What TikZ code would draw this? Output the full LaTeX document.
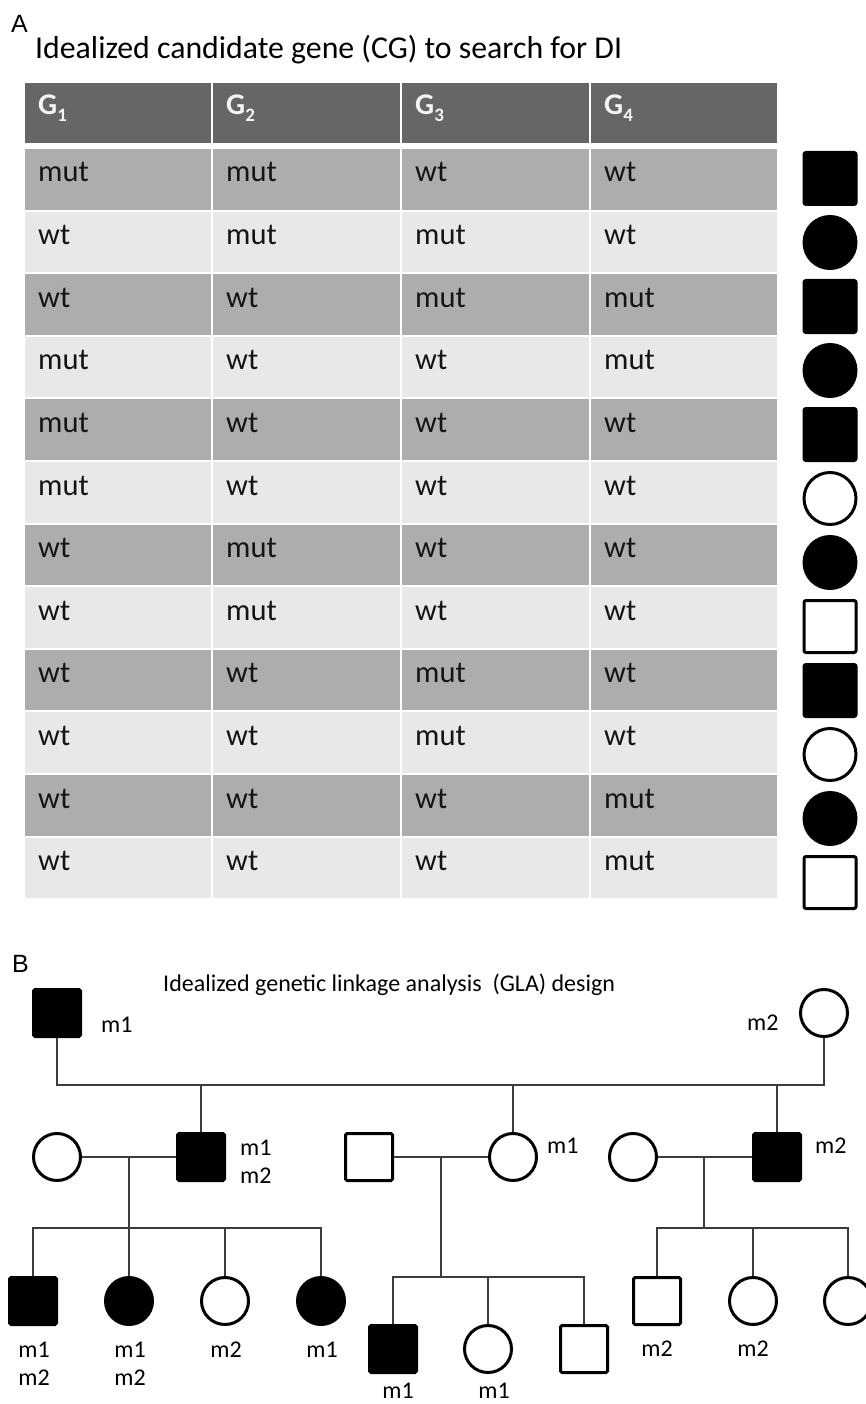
\documentclass[tikz,border=0pt]{standalone}
\usepackage{fontspec}
\setmainfont{Carlito}
\newfontfamily\panelfont{Liberation Sans}
\definecolor{headgray}{HTML}{666666}
\definecolor{darkrow}{HTML}{ADADAD}
\definecolor{lightrow}{HTML}{E8E8E8}
\definecolor{headtxt}{HTML}{F4F4F4}
\definecolor{linkgray}{HTML}{3C3C3C}
\newcommand{\gsub}[1]{\raisebox{-7pt}{\fontsize{19}{19}\selectfont #1}}
\begin{document}
\begin{tikzpicture}[x=1pt,y=-1pt,
  panel/.style={font=\panelfont\fontsize{25}{28}\selectfont, inner sep=0pt, anchor=base west},
  titletxt/.style={inner sep=0pt, anchor=base west},
  headtext/.style={font=\bfseries\fontsize{30}{34}\selectfont, text=headtxt, inner sep=0pt, anchor=base west},
  celltext/.style={font=\fontsize{30.5}{34}\selectfont, text=black!92, inner sep=0pt, anchor=base west},
  % table-side symbols
  tsym/.style={draw=black, line width=3pt, inner sep=0pt, minimum size=52pt},
  fsq/.style={tsym, rectangle, rounded corners=2pt, fill=black},
  osq/.style={tsym, rectangle, rounded corners=2pt, fill=white},
  fci/.style={tsym, circle, fill=black},
  oci/.style={tsym, circle, fill=white},
  % pedigree symbols
  psym/.style={draw=black, line width=3pt, inner sep=0pt, minimum size=47pt},
  male/.style={psym, rectangle, rounded corners=1.5pt, fill=white},
  female/.style={psym, circle, fill=white},
  aff/.style={fill=black},
  link/.style={draw=linkgray, line width=1.4pt},
  tagl/.style={font=\fontsize{24}{28}\selectfont, inner sep=0pt, anchor=base west},
  tagc/.style={font=\fontsize{24}{28}\selectfont, inner sep=0pt, anchor=base},
]
\useasboundingbox (0,0) rectangle (865,1404);

% ---------------- panel A ----------------
\node[panel] (lblA) at (11,33) {A};
\node[titletxt, font=\fontsize{31.8}{34}\selectfont] (titleA) at (35,59) {Idealized candidate gene (CG) to search for DI};

% header row
\foreach \xl/\xr in {24/212,212/401,401/590,590/778}
  \fill[headgray] (\xl+1,83) rectangle (\xr-1,143);
\node[headtext] (h1) at (38,115) {G\gsub{1}};
\node[headtext] (h2) at (226,115) {G\gsub{2}};
\node[headtext] (h3) at (415,115) {G\gsub{3}};
\node[headtext] (h4) at (604,115) {G\gsub{4}};

% genotype rows with the matching pedigree symbol at the right
\foreach \r/\rc/\ga/\gb/\gc/\gd/\sym in {
  1/darkrow/mut/mut/wt/wt/fsq,
  2/lightrow/wt/mut/mut/wt/fci,
  3/darkrow/wt/wt/mut/mut/fsq,
  4/lightrow/mut/wt/wt/mut/fci,
  5/darkrow/mut/wt/wt/wt/fsq,
  6/lightrow/mut/wt/wt/wt/oci,
  7/darkrow/wt/mut/wt/wt/fci,
  8/lightrow/wt/mut/wt/wt/osq,
  9/darkrow/wt/wt/mut/wt/fsq,
  10/lightrow/wt/wt/mut/wt/oci,
  11/darkrow/wt/wt/wt/mut/fci,
  12/lightrow/wt/wt/wt/mut/osq} {
  \pgfmathsetmacro{\top}{148+62.6*(\r-1)}
  \pgfmathsetmacro{\bot}{\top+62.6}
  \pgfmathsetmacro{\base}{\top+34}
  \pgfmathsetmacro{\sy}{178.5+64*(\r-1)}
  \foreach \xl/\xr in {24/212,212/401,401/590,590/778}
    \fill[\rc] (\xl+1,\top+1) rectangle (\xr-1,\bot-1);
  \node[celltext] (c\r-1) at (38,\base) {\ga};
  \node[celltext] (c\r-2) at (226,\base) {\gb};
  \node[celltext] (c\r-3) at (415,\base) {\gc};
  \node[celltext] (c\r-4) at (604,\base) {\gd};
  \node[\sym] (s\r) at (830,\sy) {};
}

% ---------------- panel B ----------------
\node[panel] (lblB) at (12,972) {B};
\node[titletxt, font=\fontsize{24}{28}\selectfont] (titleB) at (163,991) {Idealized genetic linkage analysis\ \ (GLA) design};

% generation I
\node[male, aff] (gf) at (57,1013) {};
\node[female] (gm) at (824,1013) {};
\node[tagl] (gfm) at (101,1032) {m1};
\node[tagl] (gmm) at (747,1030) {m2};

% generation II
\node[female] (pa) at (57,1157) {};
\node[male, aff] (pb) at (201,1157) {};
\node[male] (pc) at (369,1157) {};
\node[female] (pd) at (513,1157) {};
\node[female] (pe) at (633,1157) {};
\node[male, aff] (pf) at (777,1157) {};
\node[tagl] (pbm1) at (240,1155) {m1};
\node[tagl] (pbm2) at (240,1183) {m2};
\node[tagl] (pdm) at (547,1153) {m1};
\node[tagl] (pfm) at (815,1153) {m2};

% generation III, first family
\node[male, aff] (k1) at (33,1301) {};
\node[female, aff] (k2) at (129,1301) {};
\node[female] (k3) at (225,1301) {};
\node[female, aff] (k4) at (321,1301) {};
\node[tagc] (k1a) at (34,1357) {m1};
\node[tagc] (k1b) at (34,1385) {m2};
\node[tagc] (k2a) at (130,1357) {m1};
\node[tagc] (k2b) at (130,1385) {m2};
\node[tagc] (k3a) at (226,1357) {m2};
\node[tagc] (k4a) at (322,1357) {m1};

% generation III, second family
\node[male, aff] (j1) at (393,1349) {};
\node[female] (j2) at (488,1349) {};
\node[male] (j3) at (584,1349) {};
\node[tagc] (j1a) at (398,1398) {m1};
\node[tagc] (j2a) at (494,1398) {m1};

% generation III, third family
\node[male] (q1) at (657,1301) {};
\node[female] (q2) at (753,1301) {};
\node[female] (q3) at (848,1301) {};
\node[tagc] (q1a) at (657,1356) {m2};
\node[tagc] (q2a) at (753,1356) {m2};

% junction points
\coordinate (bar1) at (0,1085);
\coordinate (u1) at (129,1157);
\coordinate (u2) at (441,1157);
\coordinate (u3) at (704,1157);
\coordinate (sib1) at (0,1228);
\coordinate (sib2) at (0,1277);

% connectors
\draw[link] (gf.south) -- (gf.south |- bar1) -| (gm.south);
\draw[link] (pb.north) -- (pb.north |- bar1);
\draw[link] (pd.north) -- (pd.north |- bar1);
\draw[link] (pf.north) -- (pf.north |- bar1);

\draw[link] (pa.east) -- (pb.west);
\draw[link] (pc.east) -- (pd.west);
\draw[link] (pe.east) -- (pf.west);

\draw[link] (u1) -- (u1 |- sib1);
\draw[link] (k1.north) -- (k1.north |- sib1) -- (k4.north |- sib1) -- (k4.north);
\draw[link] (k2.north) -- (k2.north |- sib1);
\draw[link] (k3.north) -- (k3.north |- sib1);

\draw[link] (u2) -- (u2 |- sib2);
\draw[link] (j1.north) -- (j1.north |- sib2) -- (j3.north |- sib2) -- (j3.north);
\draw[link] (j2.north) -- (j2.north |- sib2);

\draw[link] (u3) -- (u3 |- sib1);
\draw[link] (q1.north) -- (q1.north |- sib1) -- (q3.north |- sib1) -- (q3.north);
\draw[link] (q2.north) -- (q2.north |- sib1);
\end{tikzpicture}
\end{document}
